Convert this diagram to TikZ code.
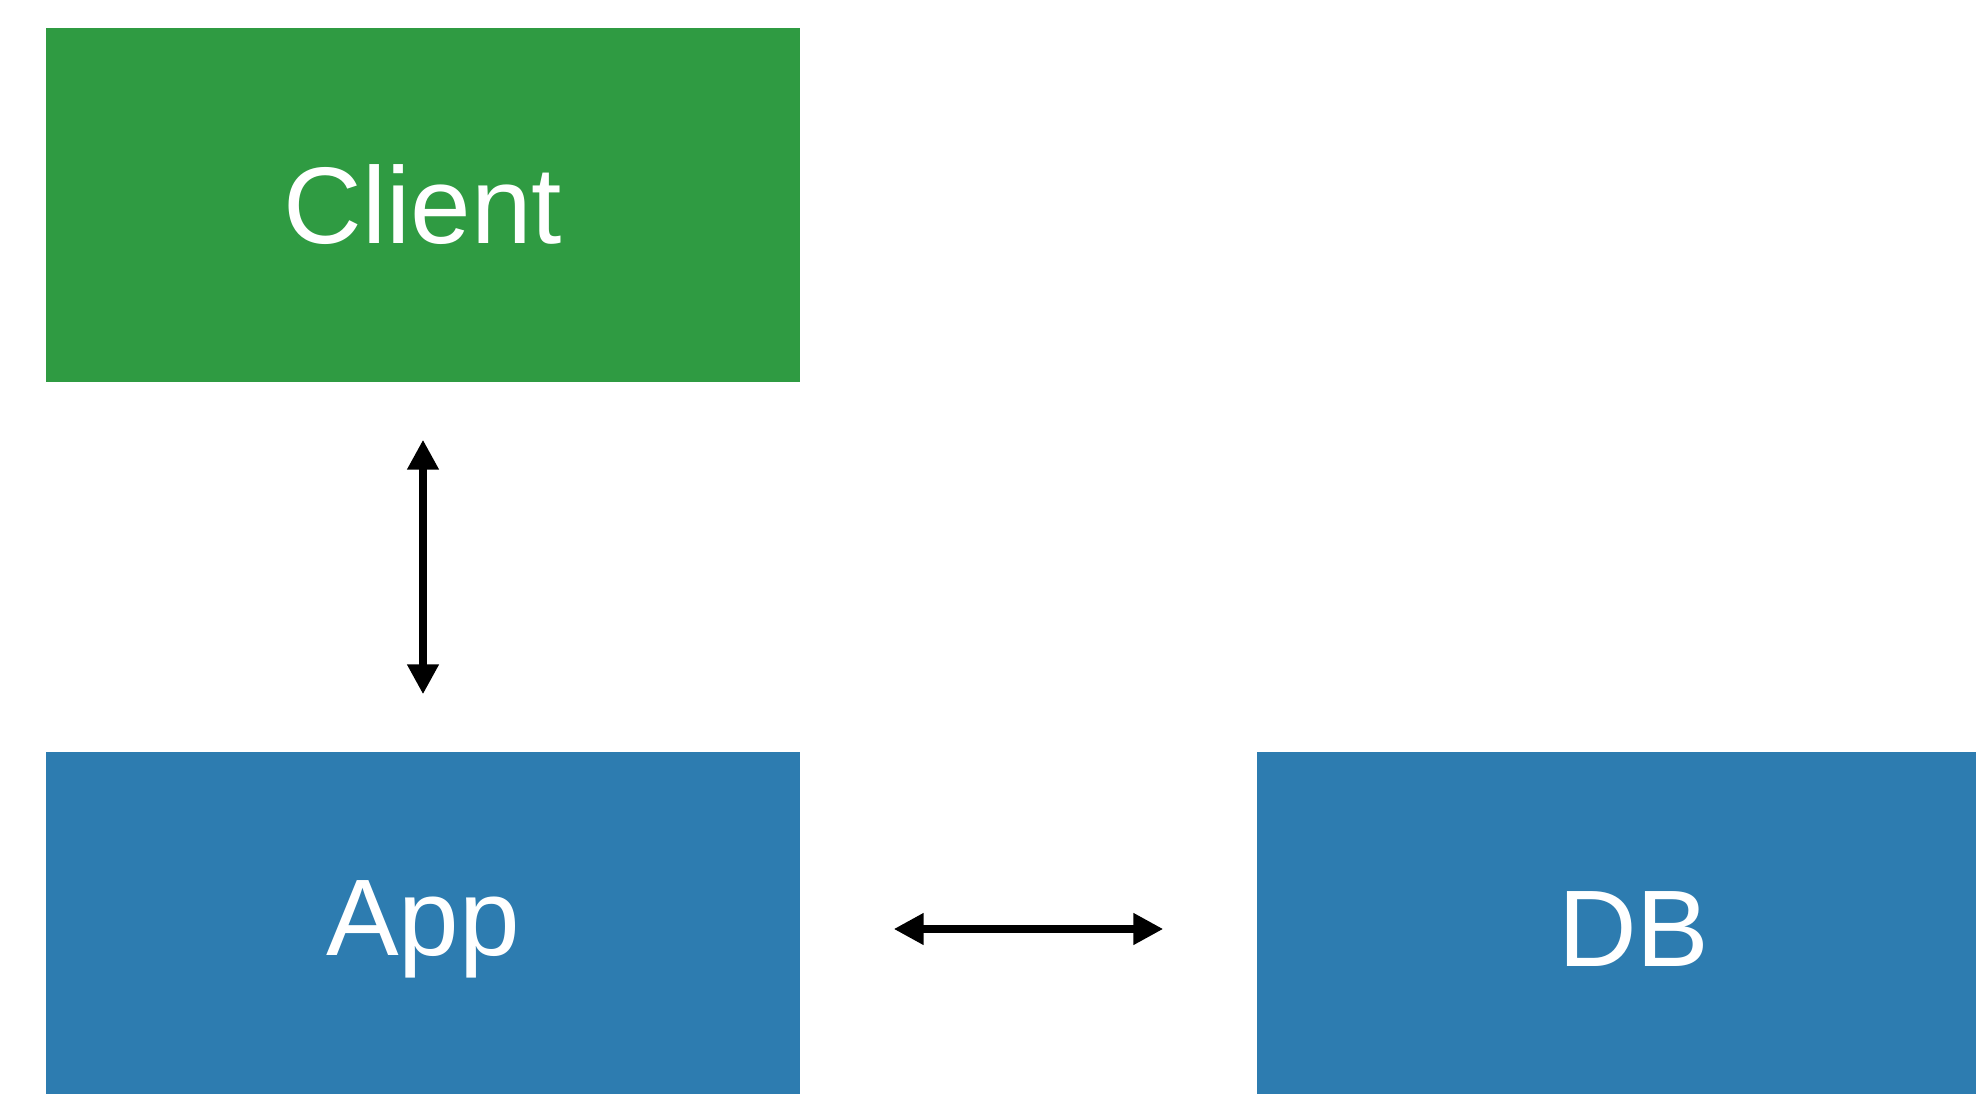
\documentclass[tikz,border=0pt]{standalone}
\usepackage{fontspec}
\setmainfont{Liberation Sans}
\usetikzlibrary{arrows.meta}

\definecolor{clientgreen}{HTML}{2F9B42}
\definecolor{serverblue}{HTML}{2D7CB0}

\tikzstyle{box}=[minimum width=7.54cm,minimum height=3.54cm,inner sep=0pt,text=white,font=\fontsize{31}{37}\selectfont]
\tikzstyle{front}=[box,fill=clientgreen]
\tikzstyle{back}=[box,fill=serverblue]
\tikzstyle{edge} = [draw,line width=2.2pt,{Triangle[width=8.5pt,length=8.5pt]}-{Triangle[width=8.5pt,length=8.5pt]}]

\begin{document}
\begin{tikzpicture}
                              \clip (0,0) rectangle (19.76,-10.94);
                              \useasboundingbox (0,0) rectangle (19.76,-10.94);
                              % First we draw the boxes
                              \foreach \pos/\name/\la/\kind in {{(4.23,-2.05)/client/Client/front}, {(4.23,-9.29)/app/App/back}, {(16.34,-9.29)/db/DB/back}}
                                    \node[\kind] (\name) at \pos {\raisebox{-0.12cm}{\la}};
                              % Connect boxes with double arrows
                              \foreach \source/\dest/\gap in {client/app/0.57cm, app/db/0.93cm}
                              \path[edge,shorten <=\gap,shorten >=\gap] (\source) -- (\dest);
                        \end{tikzpicture}
\end{document}
